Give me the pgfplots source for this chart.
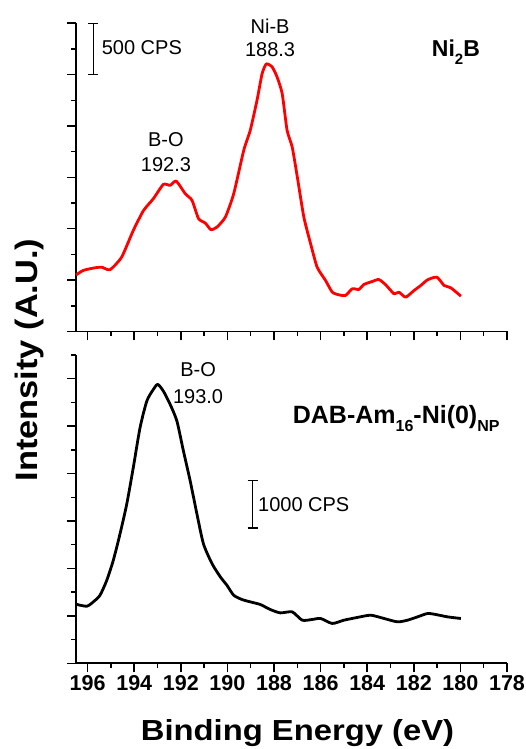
\documentclass[border=0pt]{standalone}
\usepackage{pgfplots}
\pgfplotsset{compat=1.18}
\usepackage{fontspec}
\setmainfont{Liberation Sans}
\usepackage{graphicx}

\pgfplotstableread{
x y
196.50 550
196.19 594
195.76 617
195.40 626
195.04 601
194.54 724
194.04 984
193.60 1178
193.18 1292
192.75 1432
192.46 1422
192.20 1464
191.81 1341
191.52 1276
191.24 1098
190.95 1055
190.71 991
190.45 1016
190.09 1113
189.73 1341
189.30 1763
189.02 1958
188.73 2250
188.51 2510
188.33 2604
188.08 2574
187.87 2477
187.65 2315
187.44 1958
187.22 1795
187.00 1503
186.72 1113
186.43 854
186.15 626
185.79 497
185.50 383
185.22 357
184.93 351
184.64 416
184.36 409
184.14 458
183.78 487
183.50 506
183.21 455
182.85 367
182.64 383
182.35 334
181.99 399
181.70 448
181.41 503
181.01 529
180.70 448
180.41 425
179.98 344
}\nibtable

\pgfplotstableread{
x y
196.50 1245
196.04 1203
195.76 1294
195.47 1434
195.18 1749
194.90 2169
194.61 2730
194.32 3360
194.04 4129
193.75 4969
193.46 5529
193.18 5775
192.99 5880
192.75 5739
192.46 5460
192.17 5109
191.89 4479
191.60 3849
191.31 3150
191.03 2520
190.66 2100
190.30 1819
190.02 1644
189.73 1434
189.37 1344
189.01 1294
188.59 1240
188.16 1134
187.73 1063
187.22 1084
186.79 909
186.36 924
186.00 945
185.50 840
185.00 909
184.43 966
183.85 1014
183.28 945
182.70 874
182.27 909
181.84 979
181.41 1050
181.06 1029
180.55 979
179.98 945
}\dabtable

\newcommand{\sub}[2]{\raisebox{-0.32em}{\fontsize{#1}{#1}\selectfont #2}}

\begin{document}
\begin{tikzpicture}
\useasboundingbox (0pt,0pt) rectangle (526pt,749pt);
\pgfplotsset{
  every axis/.append style={
    scale only axis, width=431pt, height=308.3pt,
    xmin=178, xmax=196.5, x dir=reverse,
    axis lines=left,
    axis line style={line width=1.8pt, -},
    tick align=outside, major tick length=9pt, minor tick length=4.5pt,
    every tick/.style={line width=1.5pt, black},
    xtick={178,180,...,196}, minor xtick={179,181,...,195},
    yticklabels={},
    clip=false,
  }
}
\newcommand{\annfont}{\fontsize{20}{24}\selectfont}

% top panel
\begin{axis}[at={(76pt,417.5pt)}, anchor=south west,
  ymin=0, ymax=3000, ytick={0,500,...,3000}, minor ytick={250,750,...,2750},
  xticklabels={}]
\addplot[red, line width=2.8pt, line join=round, smooth, tension=0.35] table[x=x,y=y] {\nibtable};
\draw[line width=1.3pt] (axis cs:195.76,2500) -- (axis cs:195.76,3000);
\draw[line width=1.3pt] ([xshift=-5pt]axis cs:195.76,2500) -- ++(10pt,0pt);
\draw[line width=1.3pt] ([xshift=-5pt]axis cs:195.76,3000) -- ++(10pt,0pt);
\node[anchor=base west, inner sep=0pt, font=\annfont] at (axis cs:195.4,2691) {500 CPS};
\node[anchor=base, inner sep=0pt, font=\annfont] at (axis cs:192.64,1799) {B-O};
\node[anchor=base, inner sep=0pt, font=\annfont] at (axis cs:192.64,1555) {192.3};
\node[anchor=base, inner sep=0pt, font=\annfont] at (axis cs:188.17,2903) {Ni-B};
\node[anchor=base, inner sep=0pt, font=\annfont] at (axis cs:188.17,2672) {188.3};
\node[anchor=base west, inner sep=0pt, font=\bfseries\fontsize{23}{27}\selectfont] at (axis cs:181.23,2672) {Ni\sub{15}{2}B};
\end{axis}

% bottom panel
\begin{axis}[at={(76pt,85.7pt)}, anchor=south west,
  ymin=0, ymax=6500, ytick={0,1000,...,6000}, minor ytick={500,1500,...,6500},
  xticklabel style={font=\bfseries\fontsize{21.5}{24}\selectfont},
  /pgf/number format/assume math mode=true]
\addplot[black, line width=2.8pt, line join=round, smooth, tension=0.4] table[x=x,y=y] {\dabtable};
\draw[line width=1.3pt] (axis cs:188.92,2850) -- (axis cs:188.92,3850);
\draw[line width=1.3pt] ([xshift=-5pt]axis cs:188.92,2850) -- ++(10pt,0pt);
\draw[line width=1.3pt] ([xshift=-5pt]axis cs:188.92,3850) -- ++(10pt,0pt);
\node[anchor=base west, inner sep=0pt, font=\annfont] at (axis cs:188.69,3196) {1000 CPS};
\node[anchor=base, inner sep=0pt, font=\annfont] at (axis cs:191.26,6042) {B-O};
\node[anchor=base, inner sep=0pt, font=\annfont] at (axis cs:191.26,5481) {193.0};
\node[anchor=base west, inner sep=0pt, font=\bfseries\fontsize{25}{29}\selectfont] at (axis cs:187.2,5059) {DAB-Am\sub{16}{16}-Ni(0)\sub{16}{NP}};
\end{axis}

\node[rotate=90, anchor=base, inner sep=0pt, font=\bfseries\fontsize{31}{36}\selectfont] at (37.3pt,389pt) {\scalebox{1.11}[1]{Intensity (A.U.)}};
\node[anchor=base, inner sep=0pt, font=\bfseries\fontsize{29}{34}\selectfont] at (297.5pt,8.3pt) {\scalebox{1.13}[1]{Binding Energy (eV)}};
\end{tikzpicture}
\end{document}
